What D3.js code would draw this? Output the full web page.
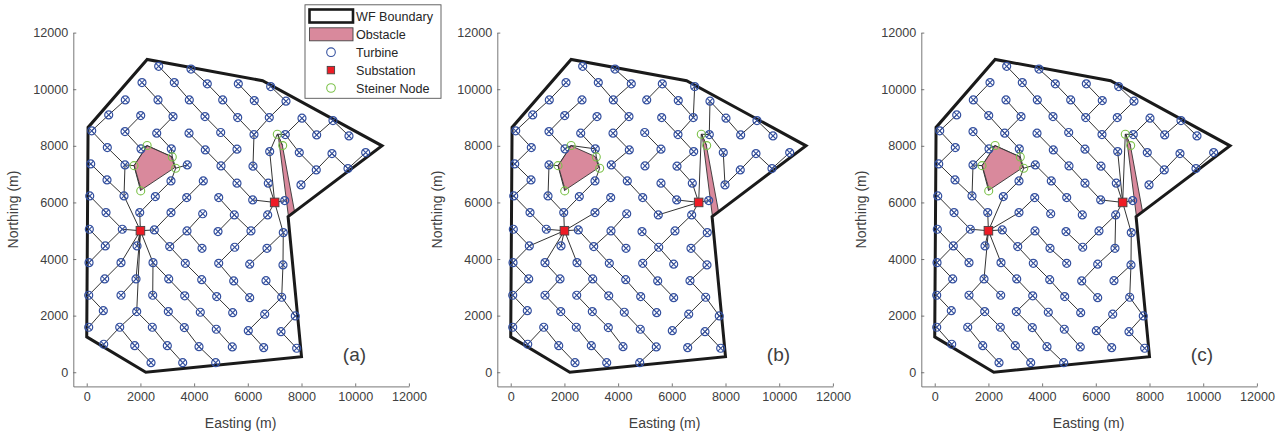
<!DOCTYPE html>
<html><head><meta charset="utf-8">
<script src="https://cdn.jsdelivr.net/npm/d3@7"></script>
<style>html,body{margin:0;padding:0;background:#fff}svg{display:block}text{font-family:"Liberation Sans",Arial,sans-serif}</style>
</head><body><div id="c"></div>
<script>
const tickValues=[0,2000,4000,6000,8000,10000,12000];
const panelLabels=["(a)","(b)","(c)"];
const legendLabels=["WF Boundary","Obstacle","Turbine","Substation","Steiner Node"];
const boundaryX=[0,2200,8000,7500,11000,6550,2250,50];
const boundaryY=[1250,0,550,5500,8000,10300,11050,8650];
const obstacle1X=[2250,3150,3280,2030,1770];
const obstacle1Y=[8000,7620,7230,6440,7300];
const obstacle2X=[7130,7290,7740,7510];
const obstacle2Y=[8390,8000,5680,5530];
const substationX=[2000,7000];
const substationY=[5000,6000];
const steinerX=[2250,3187,3314,2011,1761,7098,7299];
const steinerY=[8010,7608,7209,6407,7300,8410,8008];
const turbineX=[
[2680,3884],
[2059,3262,4491,5646,6852],
[1437,2655,3821,5065,6241,7422],
[819,2011,3214,4405,5623,6800,8018,9172],
[186,1426,2607,3810,4990,6230,7396,8565,9768],
[767,2022,3150,4417,5597,6815,7917,9135,10390],
[149,1426,3746,5001,6193,8550,9731],
[756,3139,4342,5597,6763,7981],
[112,1389,2555,3724,4916,6182,7374],
[719,1974,3139,4320,5497,6740],
[97,1326,2517,3735,4890,6118,7321],
[693,1873,3091,4294,5512,6714],
[86,1277,2469,3672,4916,6070,7310],
[670,1836,3054,4283,5474,6677],
[74,1277,2458,3650,4841,6070,7262],
[618,1862,3039,4230,5437,6629,7768],
[74,1229,2443,3635,4826,6018,7236],
[633,1788,3002,4182,5422,6591,7820],
[2395,3575,4804]];
const turbineY=[
[10810,10710],
[10234,10234,10189,10189,10093],
[9623,9623,9623,9623,9598,9577],
[9093,9068,9033,9033,8998,8998,8976,8892],
[8528,8503,8446,8446,8470,8397,8397,8386,8350],
[7938,7892,7892,7856,7881,7796,7760,7725,7760],
[7361,7326,7326,7291,7280,7149,7195],
[6796,6760,6760,6680,6680,6620],
[6230,6230,6206,6170,6170,6089,6064],
[5640,5640,5640,5600,5560,5560],
[5053,5053,5029,4993,4969,4993,4933],
[4463,4463,4440,4380,4417,4380],
[3873,3873,3873,3850,3850,3817,3792],
[3297,3297,3297,3270,3227,3237],
[2721,2721,2721,2700,2672,2636,2650],
[2177,2142,2142,2120,2106,2050,1990],
[1590,1590,1590,1580,1520,1470,1435],
[990,940,940,905,894,870,848],
[339,339,339]];
const chainsA=[
"0.0 1.1 2.2 3.3 4.4 5.4 6.3 7.3 8.5 B","4.3 5.3 6.3","0.1 1.2 2.3 3.4 4.5 6.4 7.4 B","1.3 2.4 3.5 4.5","1.4 2.5 3.5",
"1.0 2.1 3.2 4.2 5.2 s2","2.0 3.0 4.0 5.0 6.1 8.1 A","6.0 7.0 8.1","3.1 4.1 5.1 s1 s2 s3 7.1 8.2 9.1 A","6.2 s3","6.1 s5 s4","s5 s1",
"8.0 9.0 10.1 A","10.0 11.0 10.1","12.0 11.0","16.0 15.0 14.0 13.0 12.1 A","A 12.2 13.2 14.3 15.3 16.4 17.4","12.2 14.2 15.2 16.3 17.3 18.2",
"A 11.1","A 13.1 14.1","A 15.1 16.1 17.0","16.1 17.1 18.0","15.1 16.2 17.2 18.1","A 10.2 11.2 12.3 13.3 14.4 15.4","11.2 10.3 9.3",
"10.2 9.2 8.3 7.2","10.3 11.3","8.4 9.4 10.5 11.4 12.4 13.4 14.5","9.4 10.4","B 9.5 10.5","B 10.6 12.6 14.6 15.5 16.5 17.5","10.6 11.5 12.5",
"13.5 14.6 15.6 16.6 17.6","B 5.5 s6 4.6 3.6 4.7 3.7 4.8","4.6 5.6 6.5 7.5","6.5 5.7 6.6 5.8","8.6 B","s6 s7"];
const chainsB=[
"0.0 1.1 2.2 3.3 4.3 5.3 6.2 7.2 8.4 9.4 B","0.1 1.2 2.2","2.3 1.3 2.4 3.5 4.5 5.5 6.4 7.4 B","3.4 4.5","1.4 3.5","4.4 5.4 6.3","7.3 8.5 B","8.6 B",
"1.0 2.0 3.0 4.0 5.0 6.0 7.0 8.0 9.0 10.1 A","2.1 3.1 4.1 5.1 s1 5.2 4.2 3.2","5.2 s2 s3 7.1 8.2 9.1 A","s4 s5 6.1 8.1 9.1","s5 s1","8.3 9.2 A",
"2.5 4.6 5.6 7.5 6.5 5.7 6.6 5.8","2.5 3.6 4.7 3.7 4.8","B s6 4.6","s6 s7",
"10.0 11.0 A","16.1 17.0 16.0 15.0 14.0 13.0 12.0 11.0","16.1 17.1 18.0","A 10.2","A 11.1","A 12.1 13.1 14.1 15.1 16.2 17.2 18.1",
"A 12.2 13.2 14.2 15.2 16.3 17.3","13.2 14.3 15.3 16.4 17.4 18.2","10.2 11.2 10.3 9.3","10.3 11.3","11.2 12.3 13.3 14.4 15.4",
"10.4 11.4 10.5 9.5 B","11.4 12.5","11.4 12.4 13.4 14.5","9.5 10.6 11.5 12.6 13.5 14.6 15.5 16.5","14.6 15.6 16.6 17.5","16.6 17.6"];
const chainsC=[
"0.0 1.1 2.2 3.3 4.4 5.4 6.4 7.4 B","0.1 1.2 2.3 3.4 4.5 5.5 B","1.3 2.4 3.4","1.4 2.5 3.5 4.5","1.0 2.0 3.1 4.2 5.2 s2","2.1 3.2 4.2",
"3.0 4.0 5.0 6.0 7.0 8.1 9.1 A","4.1 5.1 s1","5.1 6.1 8.1","6.1 s5 s4","s1 s5","s1 s2 s3 7.1 8.2 A","s3 6.2 7.2 8.4 9.4",
"4.3 5.3 6.3 7.3 8.5 B","8.6 B","B 9.5 10.5 11.4 10.4","9.5 11.5 12.5 13.4 14.5","B s6 4.6 3.6 4.7 3.7 4.8","s6 s7","4.6 5.6 6.5 5.7 6.6 5.8","6.5 7.5",
"B 10.6 12.6 14.6 15.5 16.5 17.5","12.6 13.5","14.6 15.6 16.6 17.6","8.0 9.0 10.1 A","10.0 11.0 10.1","12.0 11.0 12.1","12.0 13.0 14.0 15.0 16.0 17.0",
"A 13.1 14.1 15.1 16.1 17.1 18.0","13.1 14.2","15.1 16.2 17.2 18.1","A 11.1","A 12.2 13.2 14.3 15.3 16.4 17.4","14.3 15.2 16.3 17.3 18.2",
"A 10.2 11.2 12.3 13.3 14.4 15.4","11.2 10.3 11.3 12.4","9.2 A","8.3 9.2","8.3 9.3"];
const panelChains=[chainsA,chainsB,chainsC];

const W=1286,H=439,panelLeft=[73.3,497.3,921.3],panelW=335.6,yTop=32.6,yBot=386.4;
const ink="#404040",black="#1a1a1a",blue="#34509f",green="#7cc24a",red="#ee1c25",pink="#d9899c";
const svg=d3.select("#c").append("svg").attr("width",W).attr("height",H);
const poly=(xs,ys,x,y)=>xs.map((v,i)=>[x(v),y(ys[i])]);

panelChains.forEach((chains,pi)=>{
  const L=panelLeft[pi];
  const x=d3.scaleLinear().domain([-500,12000]).range([L,L+panelW]);
  const y=d3.scaleLinear().domain([-500,12000]).range([yBot,yTop]);
  const g=svg.append("g");
  const fmt=d3.format("d");
  const ax=g.append("g").attr("transform",`translate(0,${yBot})`).call(d3.axisBottom(x).tickValues(tickValues).tickFormat(fmt).tickSizeInner(-3).tickSizeOuter(0).tickPadding(6));
  const ay=g.append("g").attr("transform",`translate(${L},0)`).call(d3.axisLeft(y).tickValues(tickValues).tickFormat(fmt).tickSizeInner(-3).tickSizeOuter(0).tickPadding(5));
  [ax,ay].forEach(a=>{
    a.selectAll("path,line").attr("stroke","#555").attr("stroke-width",0.8);
    a.selectAll("text").attr("fill",ink).style("font-size","12.6px").style("font-family",'"Liberation Sans",Arial,sans-serif');
  });
  g.append("text").attr("x",L+panelW/2-0.5).attr("y",428).attr("text-anchor","middle").attr("fill",ink).style("font-size","14px").text("Easting (m)");
  g.append("text").attr("transform",`translate(${L-55.5},${(yTop+yBot)/2}) rotate(-90)`).attr("text-anchor","middle").attr("fill",ink).style("font-size","14px").text("Northing (m)");

  const loc=id=>{
    if(id==="A")return[substationX[0],substationY[0]];
    if(id==="B")return[substationX[1],substationY[1]];
    if(id[0]==="s"){const k=+id.slice(1)-1;return[steinerX[k],steinerY[k]];}
    const[r,c]=id.split(".").map(Number);return[turbineX[r][c],turbineY[r][c]];
  };
  const line=d3.line().x(d=>x(d[0])).y(d=>y(d[1]));
  g.append("g").selectAll("path").data(chains).join("path")
    .attr("d",c=>line(c.split(" ").map(loc))).attr("fill","none").attr("stroke","#1c1c1c").attr("stroke-width",0.9);
  [[obstacle1X,obstacle1Y],[obstacle2X,obstacle2Y]].forEach(([a,b])=>{
    g.append("polygon").attr("points",poly(a,b,x,y).join(" ")).attr("fill",pink).attr("stroke","#333").attr("stroke-width",0.9);
  });
  g.append("polygon").attr("points",poly(boundaryX,boundaryY,x,y).join(" ")).attr("fill","none").attr("stroke",black).attr("stroke-width",3).attr("stroke-linejoin","miter");
  const tpts=turbineX.flatMap((row,r)=>row.map((v,c)=>[v,turbineY[r][c]]));
  const tg=g.append("g").selectAll("g").data(tpts).join("g").attr("transform",d=>`translate(${x(d[0])},${y(d[1])})`);
  tg.append("circle").attr("r",4).attr("fill","none").attr("stroke",blue).attr("stroke-width",1.2);
  tg.append("path").attr("d","M-2.9,-2.9L2.9,2.9M-2.9,2.9L2.9,-2.9").attr("stroke",blue).attr("stroke-width",1.1);
  g.append("g").selectAll("circle").data(steinerX).join("circle").attr("cx",d=>x(d)).attr("cy",(d,i)=>y(steinerY[i])).attr("r",4).attr("fill","none").attr("stroke",green).attr("stroke-width",1.1);
  g.append("g").selectAll("rect").data(substationX).join("rect").attr("x",d=>x(d)-4.3).attr("y",(d,i)=>y(substationY[i])-4.3).attr("width",8.6).attr("height",8.6).attr("fill",red).attr("stroke","#444").attr("stroke-width",0.9);
  g.append("text").attr("x",x(9540)).attr("y",y(400)).attr("fill",ink).style("font-size","19px").text(panelLabels[pi]);
});

const lg=svg.append("g");
lg.append("rect").attr("x",305).attr("y",4.8).attr("width",136).attr("height",93.5).attr("fill","#fff").attr("stroke","#555").attr("stroke-width",0.9);
const rowYs=[16,34.5,52.2,70,88];
legendLabels.forEach((t,i)=>{
  lg.append("text").attr("x",356).attr("y",rowYs[i]+4.5).attr("fill","#262626").style("font-size","12.6px").text(t);
});
lg.append("rect").attr("x",309.5).attr("y",9.5).attr("width",43.5).attr("height",13).attr("fill","#fff").attr("stroke",black).attr("stroke-width",2.6);
lg.append("rect").attr("x",309.5).attr("y",27.8).attr("width",43.5).attr("height",13).attr("fill",pink).attr("stroke","#444").attr("stroke-width",0.9);
lg.append("circle").attr("cx",331).attr("cy",rowYs[2]).attr("r",4.3).attr("fill","none").attr("stroke",blue).attr("stroke-width",1.1);
lg.append("rect").attr("x",327.2).attr("y",rowYs[3]-3.6).attr("width",7.4).attr("height",7.4).attr("fill",red).attr("stroke","#444").attr("stroke-width",0.9);
lg.append("circle").attr("cx",331).attr("cy",rowYs[4]).attr("r",4.3).attr("fill","none").attr("stroke",green).attr("stroke-width",1.1);
</script></body></html>
